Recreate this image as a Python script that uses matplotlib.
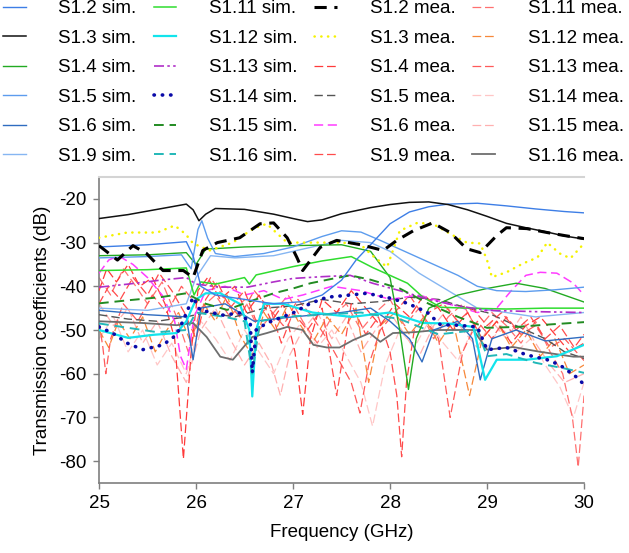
import matplotlib
matplotlib.use("Agg")
import matplotlib.pyplot as plt

plt.rcParams['font.family'] = ['Liberation Sans', 'DejaVu Sans']
plt.rcParams['font.size'] = 13.5
plt.rcParams['axes.unicode_minus'] = False

# ---- simulated ----
s1_2_sim_f = [25, 25.5, 25.9, 25.97, 26.05, 26.2, 26.5, 26.8, 27.1, 27.3, 27.5, 27.65, 27.82, 28.0, 28.2, 28.4, 28.6, 28.9, 29.2, 29.5, 29.8, 30]
s1_2_sim_db = [-31, -30.5, -29.8, -33, -40, -42, -43, -44, -43.5, -42, -38.6, -34, -30, -25.7, -23, -21.8, -21.2, -21, -21.6, -22.3, -22.9, -23.2]

s1_3_sim_f = [25, 25.3, 25.6, 25.9, 25.97, 26.03, 26.1, 26.2, 26.5, 26.8, 27.0, 27.15, 27.3, 27.5, 27.8, 28.0, 28.2, 28.4, 28.6, 28.8, 29.0, 29.2, 29.4, 29.6, 29.8, 30]
s1_3_sim_db = [-24.5, -23.6, -22.4, -21.2, -22.5, -25, -23.5, -22.2, -22.4, -23.5, -24.5, -25.2, -24.8, -23.4, -22, -21.3, -20.8, -20.7, -21.3, -22.5, -24, -25.6, -26.6, -27.5, -28.5, -29.2]

s1_4_sim_f = [25, 25.5, 25.9, 26.0, 26.1, 26.5, 27.0, 27.5, 27.8, 28.0, 28.1, 28.19, 28.27, 28.4, 28.7, 29.0, 29.3, 29.6, 30]
s1_4_sim_db = [-33, -32.8, -32.3, -35, -31.5, -31, -30.7, -30.5, -32, -38, -50, -63.6, -52, -45, -42, -40.5, -39.3, -40.5, -43.6]

s1_5_sim_f = [25, 25.5, 25.85, 25.95, 26.02, 26.06, 26.12, 26.2, 26.4, 26.7, 27.0, 27.3, 27.5, 27.7, 27.9, 28.1, 28.3, 28.5, 28.7, 28.9, 29.1, 29.4, 29.7, 30]
s1_5_sim_db = [-33.5, -33.2, -32.8, -36, -27, -25, -29, -32.5, -33.2, -32.5, -31, -28.6, -27.3, -27.6, -29.5, -31.5, -33.5, -35.5, -37.5, -40, -41, -41.2, -40.8, -40.2]

s1_6_sim_f = [25, 25.5, 25.9, 25.97, 26.05, 26.3, 26.6, 27.0, 27.5, 27.8, 28.0, 28.2, 28.33, 28.45, 28.7, 28.85, 28.93, 29.05, 29.3, 29.6, 30]
s1_6_sim_db = [-45.5, -46.5, -47, -56.8, -45, -44, -48, -47, -46, -45, -48, -52, -57.3, -50, -48, -52, -61.4, -52, -50, -52.5, -51.6]

s1_9_sim_f = [25, 25.5, 25.9, 26.0, 26.15, 26.4, 26.8, 27.2, 27.5, 27.8, 28.0, 28.3, 28.6, 28.9, 29.2, 29.5, 30]
s1_9_sim_db = [-45, -45.5, -44, -38, -33, -33.5, -33, -31, -29.5, -30, -32, -37, -41, -45, -46, -47, -46]

s1_11_sim_f = [25, 25.5, 25.9, 25.98, 26.05, 26.2, 26.4, 26.5, 26.55, 26.62, 26.8, 27.0, 27.3, 27.6, 27.82, 28.0, 28.18, 28.34, 28.52, 28.8, 29.2, 29.6, 30]
s1_11_sim_db = [-36.4, -36.2, -35.8, -42, -39, -39.5, -38.5, -38, -39.5, -37.4, -36.5, -35.5, -34.2, -33.2, -35.7, -37.5, -39.3, -42.5, -44.8, -45, -45.2, -45, -45]

s1_12_sim_f = [25, 25.3, 25.56, 25.8, 25.9, 26.0, 26.1, 26.25, 26.45, 26.55, 26.58, 26.62, 26.7, 26.9, 27.2, 27.6, 28.0, 28.34, 28.6, 28.86, 28.98, 29.1, 29.41, 29.72, 30]
s1_12_sim_db = [-50, -51.8, -51.1, -50.7, -48, -43, -41.6, -41.6, -44, -50, -65.2, -50, -44, -44, -46, -47, -46, -48.4, -48.5, -49.3, -61.4, -56.8, -56.8, -56, -53.4]

s1_13_sim_f = [25, 25.3, 25.63, 25.9, 26.0, 26.25, 26.53, 26.8, 27.0, 27.3, 27.59, 27.82, 28.1, 28.4, 28.7, 29.0, 29.5, 30]
s1_13_sim_db = [-40.2, -39.5, -38.6, -38, -39.5, -40.2, -40.2, -39, -38.2, -37.8, -37.5, -39.3, -41, -43, -44.5, -45.5, -45.8, -46]

s1_14_sim_f = [25, 25.14, 25.29, 25.45, 25.66, 25.8, 25.87, 25.97, 26.04, 26.28, 26.45, 26.56, 26.58, 26.62, 26.73, 27.0, 27.18, 27.35, 27.59, 27.76, 28.0, 28.18, 28.38, 28.52, 28.69, 28.9, 29.0, 29.2, 29.41, 29.62, 29.75, 29.93, 30]
s1_14_sim_db = [-49.3, -50.7, -53, -54.5, -53.4, -51.1, -47.7, -42.5, -45.4, -46.6, -46.1, -48.4, -59.8, -50, -48.4, -46.1, -43.9, -42.5, -42, -41.6, -42.7, -43.9, -45.9, -48.8, -48.9, -49.3, -54.5, -54, -55.7, -56.8, -58, -60.9, -62.5]

s1_15_sim_f = [25, 25.3, 25.63, 25.9, 26.1, 26.32, 26.55, 26.8, 27.0, 27.18, 27.4, 27.59, 27.8, 28.1, 28.4, 28.7, 29.0, 29.3, 29.6, 30]
s1_15_sim_db = [-43.9, -43.2, -42.5, -41.6, -44, -45.4, -43.5, -41.6, -40.5, -39.3, -38.3, -37.5, -38.5, -40.5, -44, -47, -49.5, -49.3, -48.8, -48.2]

s1_16_sim_f = [25, 25.3, 25.6, 25.9, 26.0, 26.3, 26.5, 26.58, 26.66, 26.9, 27.3, 27.7, 28.1, 28.5, 28.9, 29.0, 29.2, 29.5, 29.8, 30]
s1_16_sim_db = [-48.5, -49.5, -50.5, -50, -46, -47, -48, -60, -48, -47, -46.5, -46, -47.5, -51, -50, -56, -55.5, -57.5, -58.8, -59.8]

# ---- measured ----
s1_2_mea_f = [25, 25.19, 25.35, 25.49, 25.66, 25.87, 25.97, 26.07, 26.22, 26.45, 26.66, 26.8, 26.94, 27.04, 27.1, 27.28, 27.45, 27.7, 27.93, 28.07, 28.24, 28.44, 28.62, 28.79, 28.93, 29.1, 29.2, 29.41, 29.62, 29.8, 30]
s1_2_mea_db = [-30.7, -34, -30.7, -32.5, -36.4, -36.4, -38, -31.8, -30, -28.9, -25.7, -25.5, -28.9, -33.4, -36.4, -31.1, -29.5, -30.5, -31.8, -29.5, -27.3, -25.5, -27.7, -31.4, -32.3, -28.4, -26.6, -26.8, -27.7, -28.4, -29.1]

s1_3_mea_f = [25, 25.29, 25.6, 25.78, 25.89, 25.97, 26.14, 26.38, 26.59, 26.73, 26.84, 26.94, 27.18, 27.48, 27.69, 27.82, 27.97, 28.03, 28.1, 28.28, 28.44, 28.62, 28.79, 28.93, 29.0, 29.05, 29.2, 29.37, 29.52, 29.62, 29.75, 29.86, 30]
s1_3_mea_db = [-28.9, -27.7, -27.7, -26.1, -28, -30.2, -31.8, -30, -26.8, -25.7, -28, -30, -30, -30, -30.3, -33, -35.6, -31.8, -27.3, -25.5, -25.7, -28, -30, -30.2, -34, -37.9, -36.8, -34.8, -33.4, -30, -32.5, -33.6, -30.2]

s1_4_mea_f = [25, 25.08, 25.18, 25.3, 25.42, 25.55, 25.68, 25.78, 25.87, 25.95, 26.02, 26.12, 26.25, 26.4, 26.52, 26.65, 26.78, 26.9, 27.02, 27.1, 27.18, 27.3, 27.45, 27.6, 27.75, 27.9, 28.05, 28.2, 28.35, 28.5, 28.65, 28.8, 28.95, 29.1, 29.25, 29.4, 29.55, 29.7, 29.85, 30]
s1_4_mea_db = [-41, -36, -39, -35, -40, -38, -44, -52, -79.5, -55, -41, -38, -43, -40, -46, -42, -48, -44, -55, -69.3, -52, -43, -46, -41, -45, -49, -44, -47, -42, -45, -50, -46, -52, -48, -53, -49, -47, -51, -55, -53]

s1_5_mea_f = [25, 25.3, 25.6, 25.9, 26.1, 26.4, 26.7, 27.0, 27.3, 27.6, 27.9, 28.2, 28.5, 28.8, 29.0, 29.2, 29.4, 29.6, 29.8, 30]
s1_5_mea_db = [-46.5, -47.5, -48, -47, -46, -47, -45, -44.5, -43, -44, -43.5, -42.5, -43, -45, -46, -48, -50, -52, -55, -56.5]

s1_6_mea_f = [25, 25.1, 25.2, 25.35, 25.5, 25.65, 25.78, 25.84, 25.9, 25.98, 26.1, 26.3, 26.5, 26.7, 26.9, 27.1, 27.4, 27.7, 28.0, 28.3, 28.6, 28.9, 29.1, 29.25, 29.4, 29.55, 29.72, 29.89, 30]
s1_6_mea_db = [-37, -34, -33, -35, -38, -42, -48, -56, -59, -47, -41, -40, -42, -41, -43, -42, -40, -41, -43, -42, -44, -46, -45, -41, -37.5, -36.8, -37, -39.3, -42]

s1_9_mea_f = [25, 25.1, 25.22, 25.35, 25.5, 25.62, 25.75, 25.88, 26.0, 26.1, 26.22, 26.35, 26.5, 26.62, 26.75, 26.88, 27.0, 27.15, 27.3, 27.45, 27.6, 27.75, 27.88, 28.0, 28.07, 28.12, 28.17, 28.25, 28.4, 28.55, 28.7, 28.85, 29.0, 29.15, 29.3, 29.45, 29.6, 29.75, 29.9, 30]
s1_9_mea_db = [-44, -40, -43, -38, -42, -37, -41, -46, -52, -43, -39, -45, -41, -48, -44, -53, -46, -50, -45, -65, -44, -51, -47, -55, -65, -79, -62, -50, -46, -44, -48, -45, -49, -46, -50, -47, -52, -49, -54, -51]

s1_11_mea_f = [25, 25.12, 25.25, 25.38, 25.5, 25.65, 25.8, 25.92, 26.05, 26.2, 26.35, 26.5, 26.65, 26.8, 26.95, 27.1, 27.25, 27.4, 27.55, 27.7, 27.85, 28.0, 28.15, 28.3, 28.45, 28.6, 28.75, 28.9, 29.05, 29.2, 29.35, 29.5, 29.65, 29.78, 29.88, 29.94, 30]
s1_11_mea_db = [-38, -42, -36, -40, -44, -39, -47, -55, -45, -42, -47, -43, -50, -46, -42, -48, -53, -47, -44, -50, -46, -43, -49, -45, -52, -47, -44, -50, -46, -49, -53, -48, -55, -60, -70, -81.4, -65]

s1_12_mea_f = [25, 25.1, 25.2, 25.32, 25.45, 25.58, 25.7, 25.82, 25.95, 26.08, 26.2, 26.32, 26.45, 26.58, 26.7, 26.82, 26.95, 27.08, 27.2, 27.35, 27.5, 27.65, 27.78, 27.9, 28.05, 28.2, 28.35, 28.5, 28.65, 28.82, 28.95, 29.1, 29.25, 29.4, 29.55, 29.7, 29.85, 30]
s1_12_mea_db = [-50, -54, -48, -52, -47, -55, -50, -46, -53, -44, -48, -42, -51, -56, -46, -50, -44, -49, -53, -47, -51, -45, -62, -49, -46, -51, -47, -53, -48, -65, -52, -48, -54, -50, -56, -52, -60, -58]

s1_13_mea_f = [25, 25.04, 25.07, 25.12, 25.25, 25.4, 25.55, 25.7, 25.85, 26.0, 26.15, 26.3, 26.45, 26.6, 26.75, 26.9, 27.05, 27.2, 27.35, 27.5, 27.6, 27.69, 27.78, 27.9, 28.05, 28.2, 28.35, 28.5, 28.62, 28.75, 28.9, 29.05, 29.2, 29.35, 29.5, 29.65, 29.8, 30]
s1_13_mea_db = [-48, -54, -60, -52, -44, -48, -42, -46, -40, -44, -38, -43, -47, -41, -45, -49, -43, -47, -52, -58, -62, -69, -58, -50, -46, -42, -47, -52, -70, -55, -48, -52, -47, -51, -49, -54, -52, -57]

s1_14_mea_f = [25, 25.15, 25.3, 25.45, 25.6, 25.75, 25.9, 26.05, 26.2, 26.35, 26.5, 26.65, 26.8, 26.95, 27.1, 27.25, 27.4, 27.55, 27.7, 27.82, 27.95, 28.1, 28.25, 28.4, 28.55, 28.7, 28.85, 29.0, 29.15, 29.3, 29.45, 29.6, 29.75, 29.89, 30]
s1_14_mea_db = [-52, -47, -55, -50, -58, -53, -60, -48, -52, -57, -50, -55, -60, -52, -48, -54, -50, -56, -62, -72, -58, -50, -54, -48, -53, -57, -50, -54, -49, -55, -52, -58, -63, -70, -62]

s1_15_mea_f = [25, 25.15, 25.3, 25.45, 25.6, 25.75, 25.9, 26.05, 26.2, 26.35, 26.5, 26.65, 26.78, 26.87, 26.96, 27.1, 27.25, 27.4, 27.55, 27.7, 27.85, 28.0, 28.15, 28.3, 28.45, 28.6, 28.75, 28.9, 29.05, 29.2, 29.35, 29.5, 29.65, 29.8, 30]
s1_15_mea_db = [-44, -49, -45, -53, -48, -56, -62, -50, -45, -52, -58, -53, -58, -65, -56, -50, -46, -52, -47, -55, -50, -46, -51, -56, -49, -45, -50, -54, -48, -52, -47, -53, -58, -62, -60]

s1_16_mea_f = [25, 25.45, 25.8, 25.97, 26.11, 26.25, 26.38, 26.49, 26.58, 26.73, 26.94, 27.1, 27.21, 27.35, 27.48, 27.62, 27.79, 27.9, 28.03, 28.25, 28.48, 28.86, 29.0, 29.27, 29.55, 29.89, 30]
s1_16_mea_db = [-48, -48.4, -48.9, -48.4, -51.6, -56.1, -56.8, -53.9, -51.6, -50.7, -49.3, -50, -53.4, -54, -54, -52.3, -50.7, -52.7, -50.7, -50.5, -50, -50, -54.5, -53.9, -55, -56.1, -56.1]

x_ticks = [25, 26, 27, 28, 29, 30]
y_ticks = [-20, -30, -40, -50, -60, -70, -80]

# label, f, db, color, linestyle, linewidth, zorder  (legend order: column by column)
series = [
    ("S1.2 sim.", s1_2_sim_f, s1_2_sim_db, "#3d7ee6", "-", 1.0, 6),
    ("S1.3 sim.", s1_3_sim_f, s1_3_sim_db, "#111111", "-", 1.1, 8),
    ("S1.4 sim.", s1_4_sim_f, s1_4_sim_db, "#22aa22", "-", 1.0, 5),
    ("S1.5 sim.", s1_5_sim_f, s1_5_sim_db, "#5c9cee", "-", 1.0, 5),
    ("S1.6 sim.", s1_6_sim_f, s1_6_sim_db, "#2f6cc0", "-", 1.0, 4),
    ("S1.9 sim.", s1_9_sim_f, s1_9_sim_db, "#86b6f2", "-", 1.0, 4),
    ("S1.11 sim.", s1_11_sim_f, s1_11_sim_db, "#2fdc2f", "-", 1.1, 5),
    ("S1.12 sim.", s1_12_sim_f, s1_12_sim_db, "#12e4ec", "-", 1.6, 4),
    ("S1.13 sim.", s1_13_sim_f, s1_13_sim_db, "#b02fc8", (0, (6, 2, 1.5, 2, 1.5, 2)), 1.2, 5),
    ("S1.14 sim.", s1_14_sim_f, s1_14_sim_db, "#0a0aa8", (0, (0.1, 2.2)), 2.6, 6),
    ("S1.15 sim.", s1_15_sim_f, s1_15_sim_db, "#228b22", (0, (5, 3)), 1.4, 5),
    ("S1.16 sim.", s1_16_sim_f, s1_16_sim_db, "#22b8b8", (0, (5, 3)), 1.4, 4),
    ("S1.2 mea.", s1_2_mea_f, s1_2_mea_db, "#000000", (0, (4, 2.5)), 2.2, 9),
    ("S1.3 mea.", s1_3_mea_f, s1_3_mea_db, "#f5f200", (0, (0.1, 2.6)), 1.8, 7),
    ("S1.4 mea.", s1_4_mea_f, s1_4_mea_db, "#ff3a3a", (0, (7, 3)), 0.9, 3),
    ("S1.5 mea.", s1_5_mea_f, s1_5_mea_db, "#555555", (0, (6, 3)), 1.0, 3),
    ("S1.6 mea.", s1_6_mea_f, s1_6_mea_db, "#ff3cff", (0, (6, 3)), 1.1, 3),
    ("S1.9 mea.", s1_9_mea_f, s1_9_mea_db, "#ff4b4b", (0, (7, 3)), 0.9, 3),
    ("S1.11 mea.", s1_11_mea_f, s1_11_mea_db, "#ff7070", (0, (7, 3)), 0.9, 2),
    ("S1.12 mea.", s1_12_mea_f, s1_12_mea_db, "#f7883a", (0, (7, 3)), 0.9, 2),
    ("S1.13 mea.", s1_13_mea_f, s1_13_mea_db, "#ff5a5a", (0, (7, 3)), 0.9, 2),
    ("S1.14 mea.", s1_14_mea_f, s1_14_mea_db, "#ffc6c6", (0, (7, 3)), 0.9, 1),
    ("S1.15 mea.", s1_15_mea_f, s1_15_mea_db, "#ffb0b0", (0, (7, 3)), 0.9, 1),
    ("S1.16 mea.", s1_16_mea_f, s1_16_mea_db, "#6e6e6e", "-", 1.3, 3),
]

fig = plt.figure(figsize=(6.29, 5.53), dpi=100)
ax = fig.add_axes([0.1574, 0.1266, 0.7711, 0.5533])

for label, f, db, col, ls, lw, z in series:
    ax.plot(f, db, color=col, linestyle=ls, linewidth=lw, label=label, zorder=z,
            dash_capstyle="round" if label in ("S1.14 sim.", "S1.3 mea.") else "butt")

ax.set_xlim(25, 30)
ax.set_ylim(-85, -15)
ax.set_xticks(x_ticks)
ax.set_yticks(y_ticks)
ax.set_xlabel("Frequency (GHz)", labelpad=8)
ax.set_ylabel("Transmission coefficients (dB)", labelpad=6)

for s in ["left", "bottom"]:
    ax.spines[s].set_color("#7f7f7f")
    ax.spines[s].set_linewidth(1.2)
ax.spines["top"].set_color("#d4d4d4")
ax.spines["top"].set_linewidth(1.5)
ax.spines["right"].set_visible(False)
ax.tick_params(axis="both", direction="out", length=4, width=1, color="#7f7f7f", pad=5)

fig.legend(loc="upper left", bbox_to_anchor=(0.005, 1.0), ncol=4, frameon=False,
           handlelength=1.2, handletextpad=1.75, columnspacing=0.9,
           labelspacing=0.66, borderpad=0.0, borderaxespad=0.0)

fig.savefig("out.png", dpi=100)
